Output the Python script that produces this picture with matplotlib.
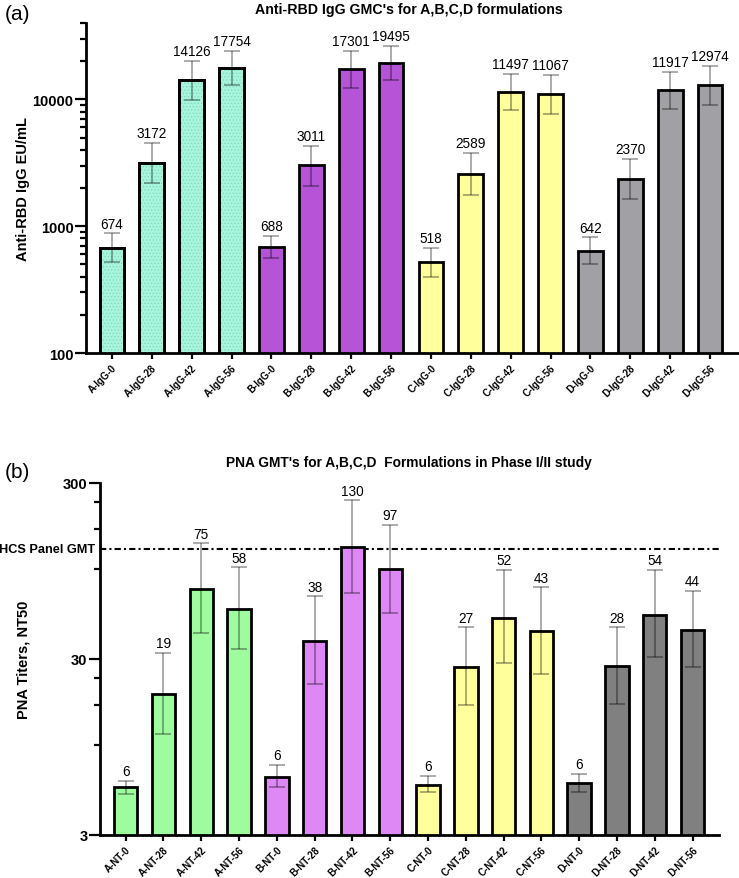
import numpy as np
import matplotlib
matplotlib.use('Agg')
import matplotlib.pyplot as plt
from matplotlib.ticker import FixedLocator, FixedFormatter, LogLocator, NullFormatter

plt.rcParams['font.family'] = ['Liberation Sans', 'DejaVu Sans']
plt.rcParams['hatch.linewidth'] = 0.6

# ── Panel (a) data: anti-RBD IgG GMC ─────────────────────────
igg_labels = ['A-IgG-0', 'A-IgG-28', 'A-IgG-42', 'A-IgG-56',
              'B-IgG-0', 'B-IgG-28', 'B-IgG-42', 'B-IgG-56',
              'C-IgG-0', 'C-IgG-28', 'C-IgG-42', 'C-IgG-56',
              'D-IgG-0', 'D-IgG-28', 'D-IgG-42', 'D-IgG-56']
igg_gmc   = [674, 3172, 14126, 17754, 688, 3011, 17301, 19495,
             518, 2589, 11497, 11067, 642, 2370, 11917, 12974]
igg_upper = [876, 4529, 20170, 23990, 834, 4317, 23990, 26480,
             675, 3802, 15930, 15640, 815, 3371, 16520, 18290]
igg_lower = [518, 2193, 9822, 12890, 560, 2091, 12360, 14190,
             394, 1754, 8240, 7660, 499, 1652, 8450, 9080]

# ── Panel (b) data: PNA GMT ──────────────────────────────────
nt_labels = ['A-NT-0', 'A-NT-28', 'A-NT-42', 'A-NT-56',
             'B-NT-0', 'B-NT-28', 'B-NT-42', 'B-NT-56',
             'C-NT-0', 'C-NT-28', 'C-NT-42', 'C-NT-56',
             'D-NT-0', 'D-NT-28', 'D-NT-42', 'D-NT-56']
nt_gmt   = [5.6, 19.0, 75, 58, 6.4, 38, 130, 97,
            5.8, 27, 51.5, 43, 5.9, 27.3, 53.6, 44]
nt_upper = [6.1, 32.6, 136, 99.6, 7.5, 68, 239, 174,
            6.5, 45.4, 95.8, 76.6, 6.7, 45.4, 95.8, 73.3]
nt_lower = [5.1, 11.3, 42.2, 34.4, 5.6, 21.5, 71.4, 55,
            5.3, 16.4, 28.4, 24.7, 5.25, 16.6, 30.7, 26.9]
nt_text  = ['6', '19', '75', '58', '6', '38', '130', '97',
            '6', '27', '52', '43', '6', '28', '54', '44']
hcs_gmt = 127

igg_colors = ['#a8f5de'] * 4 + ['#b554d6'] * 4 + ['#ffff9c'] * 4 + ['#a1a1a5'] * 4
nt_colors  = ['#9efc9e'] * 4 + ['#dd88f5'] * 4 + ['#ffff9c'] * 4 + ['#808080'] * 4

fig = plt.figure(figsize=(7.39, 8.79), dpi=100)
ax1 = fig.add_axes([86/739, 1-354/879, 652/739, 330/879])
ax2 = fig.add_axes([100/739, 1-836/879, 619/739, 352/879])


def style_axis(ax):
    for s in ['top', 'right']:
        ax.spines[s].set_visible(False)
    for s in ['left', 'bottom']:
        ax.spines[s].set_linewidth(2)
    ax.tick_params(axis='y', which='major', length=8, width=1.6, pad=1, labelsize=10.5)
    ax.tick_params(axis='y', which='minor', length=4, width=1.6)
    ax.tick_params(axis='x', which='major', length=4, width=1.6, pad=2.5)
    for t in ax.get_yticklabels():
        t.set_fontweight('bold')


def draw_bars(ax, vals, up, lo, colors, hatch_idx=()):
    x = np.arange(len(vals))
    ax.bar(x, vals, width=0.62, color=colors, edgecolor='black', linewidth=2, zorder=2)
    for i in hatch_idx:
        ax.bar(x[i], vals[i], width=0.62, color='none', edgecolor='#84d9bf',
               hatch='.....', linewidth=0, zorder=2.5)
        ax.bar(x[i], vals[i], width=0.62, color='none', edgecolor='black',
               linewidth=2, zorder=2.6)
    yerr = [np.array(vals) - np.array(lo), np.array(up) - np.array(vals)]
    ax.errorbar(x, vals, yerr=yerr, fmt='none', ecolor='black', alpha=0.42,
                elinewidth=1.1, capsize=6, capthick=1.1, zorder=3)
    return x


def set_xlabels(ax, x, labels):
    ax.set_xticks(x)
    ax.set_xticklabels(labels, rotation=45, ha='right', rotation_mode='anchor',
                       fontsize=7, fontweight='bold')


# ── (a) ──────────────────────────────────────────────────────
x1 = draw_bars(ax1, igg_gmc, igg_upper, igg_lower, igg_colors, hatch_idx=range(4))
ax1.set_yscale('log')
ax1.set_ylim(100, 40000)
ax1.set_xlim(-0.65, 15.7)
ax1.yaxis.set_major_locator(FixedLocator([100, 1000, 10000]))
ax1.yaxis.set_major_formatter(FixedFormatter(['100', '1000', '10000']))
ax1.yaxis.set_minor_locator(LogLocator(base=10, subs=np.arange(2, 10)))
ax1.yaxis.set_minor_formatter(NullFormatter())
set_xlabels(ax1, x1, igg_labels)
style_axis(ax1)
ax1.set_ylabel('Anti-RBD IgG EU/mL', fontsize=10.5, fontweight='bold')
ax1.yaxis.set_label_coords(-0.086, 0.5)
for xi, u, v in zip(x1, igg_upper, igg_gmc):
    ax1.annotate(f'{v}', (xi, u), xytext=(0, 2), textcoords='offset points',
                 ha='center', va='bottom', fontsize=9.8)

# ── (b) ──────────────────────────────────────────────────────
x2 = draw_bars(ax2, nt_gmt, nt_upper, nt_lower, nt_colors)
ax2.set_yscale('log')
ax2.set_ylim(3, 300)
ax2.set_xlim(-0.68, 15.7)
ax2.yaxis.set_major_locator(FixedLocator([3, 30, 300]))
ax2.yaxis.set_major_formatter(FixedFormatter(['3', '30', '300']))
ax2.yaxis.set_minor_locator(FixedLocator([9.75, 16.5, 23.25, 97.5, 165, 232.5]))
ax2.yaxis.set_minor_formatter(NullFormatter())
set_xlabels(ax2, x2, nt_labels)
style_axis(ax2)
ax2.set_ylabel('PNA Titers, NT50', fontsize=10.5, fontweight='bold')
ax2.yaxis.set_label_coords(-0.113, 0.5)
for xi, u, t in zip(x2, nt_upper, nt_text):
    ax2.annotate(t, (xi, u), xytext=(0, 2), textcoords='offset points',
                 ha='center', va='bottom', fontsize=9.8)

ax2.axhline(hcs_gmt, color='black', lw=1.5, ls=(0, (3, 1.5, 1, 1.5)), zorder=1)
ax2.text(-0.008, hcs_gmt, 'HCS Panel GMT', transform=ax2.get_yaxis_transform(),
         ha='right', va='center', fontsize=9.2, fontweight='bold')

# ── titles and panel letters ────────────────────────────────
fig.text(409/739, 1-10/879, "Anti-RBD IgG GMC's for A,B,C,D formulations",
         ha='center', va='center', fontsize=10.2, fontweight='bold')
fig.text(409/739, 1-463/879, "PNA GMT's for A,B,C,D  Formulations in Phase I/II study",
         ha='center', va='center', fontsize=9.9, fontweight='bold')
fig.text(5/739, 1-15/879, '(a)', ha='left', va='center', fontsize=15)
fig.text(5/739, 1-473/879, '(b)', ha='left', va='center', fontsize=15)

fig.savefig('out.png', dpi=100)
